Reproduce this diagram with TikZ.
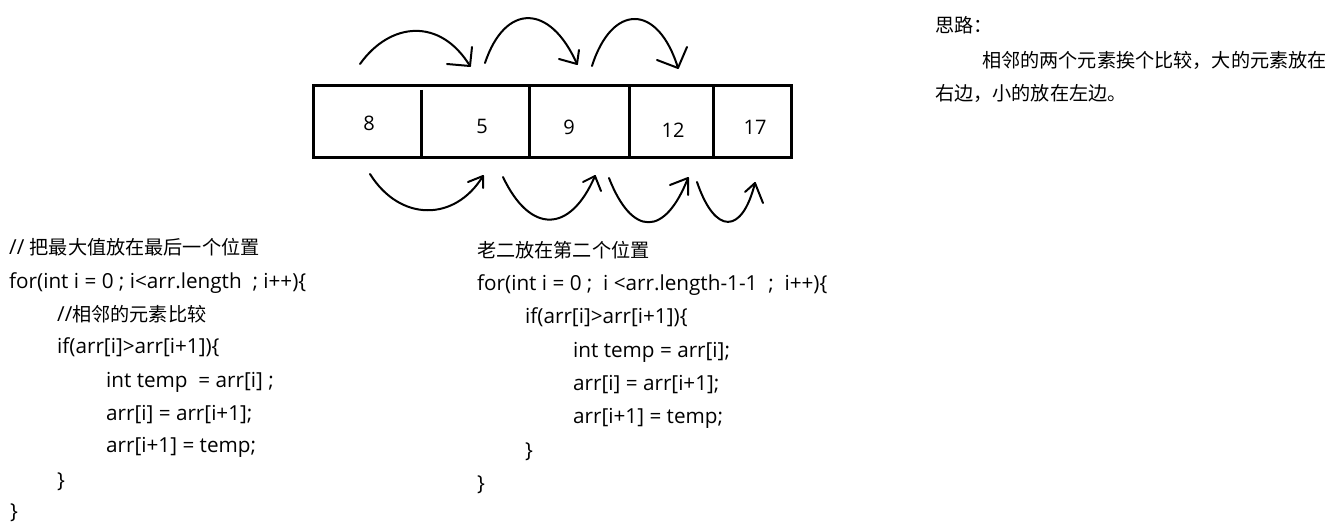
\documentclass[tikz,border=0pt]{standalone}
\usepackage{fontspec}
\setmainfont{Open Sans}
\newfontfamily\cjk[Scale=0.925]{Noto Sans CJK SC}
\usetikzlibrary{calc}

\begin{document}
\begin{tikzpicture}[x=1pt,y=-1pt,
  code/.style={anchor=west, inner sep=0pt, text height=15pt, text depth=5pt,
               font=\fontsize{20.7}{24}\selectfont},
  num/.style={inner sep=0pt, font=\fontsize{20}{24}\selectfont},
  cell/.style={line width=3pt},
  swoop/.style={line width=2pt, line cap=round, line join=round}]
  % canvas in pixels, y runs downward
  \useasboundingbox (0,0) rectangle (1331,524);
  % the array: outer frame and dividers
  \draw[cell] (313,86) rectangle (791,158);
  \draw[cell] (421,90) -- (421,158);
  \foreach \xd in {529,629,713} \draw[cell] (\xd,86) -- (\xd,158);
  \foreach \v/\xc/\yc [count=\k] in {8/369/123, 5/482/126, 9/569/127, 12/673/130, 17/755/127}
     \node[num] (n\k) at (\xc,\yc) {\v};
  % swaps above and below the array: start / control / control / tip / two barbs
  \foreach \sx/\sy/\ax/\ay/\bx/\by/\tx/\ty/\px/\py/\qx/\qy in {
      360/64/390/22/440/17/470/66/447/64/472/47,
      485/63/505/3/550/3/577/64/559/59/579/50,
      592/66/612/3/658/3/678/68/657/60/687/47,
      370/174/400/222/455/222/483/176/468/182/483/188,
      503/177/530/234/570/234/595/176/583/182/601/191,
      609/178/632/237/665/237/688/178/670/185/688/195,
      697/182/715/235/742/235/755/183/745/192/763/203}{
     \draw[swoop] (\sx,\sy) .. controls (\ax,\ay) and (\bx,\by) .. (\tx,\ty);
     \draw[swoop] (\px,\py) -- (\tx,\ty) -- (\qx,\qy);}
  % first pass
  \node[code] (a1) at (9,249)   {// {\cjk 把最大值放在最后一个位置}};
  \node[code] (a2) at (9,283)   {for(int i = 0 ; i<arr.length\ \ ; i++)\{};
  \node[code] (a3) at (57,316)  {//{\cjk 相邻的元素比较}};
  \node[code] (a4) at (57,348)  {if(arr[i]>arr[i+1])\{};
  \node[code] (a5) at (106,382) {int temp\ \ = arr[i] ;};
  \node[code] (a6) at (106,415) {arr[i] = arr[i+1];};
  \node[code] (a7) at (106,447) {arr[i+1] = temp;};
  \node[code] (a8) at (57,482)  {\}};
  \node[code] (a9) at (10,513)  {\}};
  % second pass
  \node[code] (b1) at (477,252) {\cjk 老二放在第二个位置};
  \node[code] (b2) at (477,285) {for(int i = 0 ;\ \ i <arr.length-1-1\ \ ;\ \ i++)\{};
  \node[code] (b3) at (525,318) {if(arr[i]>arr[i+1])\{};
  \node[code] (b4) at (573,352) {int temp = arr[i];};
  \node[code] (b5) at (573,385) {arr[i] = arr[i+1];};
  \node[code] (b6) at (573,418) {arr[i+1] = temp;};
  \node[code] (b7) at (525,452) {\}};
  \node[code] (b8) at (477,485) {\}};
  % idea
  \node[code] (idea)  at (935,28) {\cjk 思路：};
  \node[code] (idea1) at (982,63) {\cjk 相邻的两个元素挨个比较，大的元素放在};
  \node[code] (idea2) at (935,96) {\cjk 右边，小的放在左边。};
\end{tikzpicture}
\end{document}
